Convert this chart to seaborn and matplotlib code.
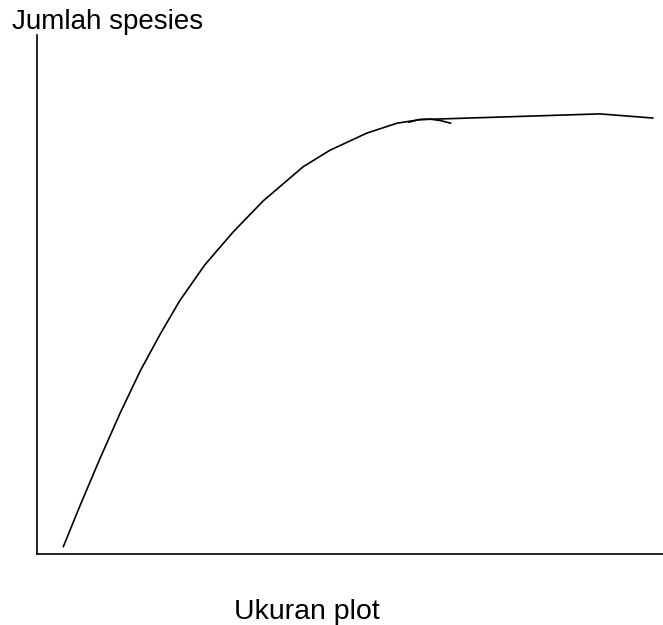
import pandas as pd
import seaborn as sns
import matplotlib.pyplot as plt

# species-area curve (hand drawn look)
ukuran = [4.2, 6.9, 10.1, 13.3, 16.5, 19.7, 22.8, 26.8, 31.3, 36.1, 42.5, 46.8,
          52.7, 57.5, 61.2, 89.9, 98.4]
spesies = [1.4, 9.4, 18.5, 27.2, 35.3, 42.4, 48.8, 55.7, 62.0, 68.0, 74.6, 77.8,
           81.1, 83.0, 83.7, 84.8, 84.0]

# the little overlapping stroke where the curve meets the plateau
stroke_x = [59.4, 61.0, 62.8, 64.5, 66.1]
stroke_y = [83.2, 83.7, 83.8, 83.5, 83.0]

df = pd.DataFrame({"Ukuran": ukuran, "Spesies": spesies})
df_stroke = pd.DataFrame({"Ukuran": stroke_x, "Spesies": stroke_y})

sns.set_style("white")
plt.rcParams['font.family'] = ['Liberation Sans', 'DejaVu Sans']

fig = plt.figure(figsize=(6.63, 6.25), dpi=100)
ax = fig.add_axes([37/663, 71/625, 626/663, 519/625])

sns.lineplot(data=df, x="Ukuran", y="Spesies", sort=False, color="black", linewidth=1.2, ax=ax)
sns.lineplot(data=df_stroke, x="Ukuran", y="Spesies", sort=False, color="black", linewidth=1.2, ax=ax)

ax.set_xlim(0, 100)
ax.set_ylim(0, 100)
ax.set_xticks([])
ax.set_yticks([])
ax.set_xlabel("")
ax.set_ylabel("")
ax.spines['top'].set_visible(False)
ax.spines['right'].set_visible(False)
for s in ['left', 'bottom']:
    ax.spines[s].set_color("black")
    ax.spines[s].set_linewidth(1.2)

fig.text(12/663, 1 - 29/625, "Jumlah spesies", fontsize=20, va="baseline", ha="left", color="black")
fig.text(307/663, 1 - 619/625, "Ukuran plot", fontsize=20.5, va="baseline", ha="center", color="black")

fig.savefig("out.png", dpi=100)
